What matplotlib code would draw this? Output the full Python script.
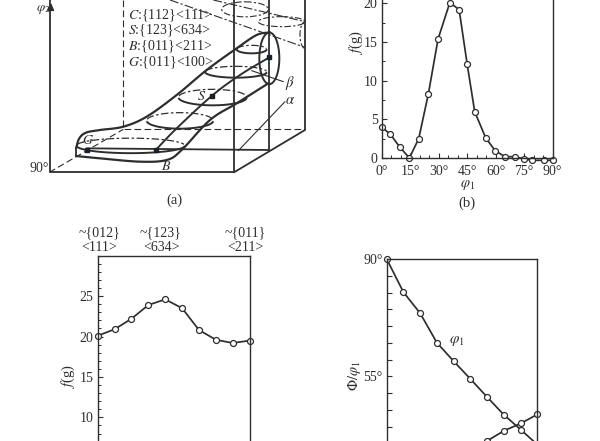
import numpy as np
import matplotlib
matplotlib.use("Agg")
import matplotlib.pyplot as plt
from matplotlib.patches import Ellipse
from matplotlib.ticker import MultipleLocator, FuncFormatter

plt.rcParams['font.family'] = ['Liberation Serif', 'DejaVu Serif']
plt.rcParams['mathtext.fontset'] = 'stix'

INK = '#2e2e2e'
W, H = 600, 441

# panel (b)
b_phi1 = [0, 4.6, 9.5, 14.6, 19.5, 24.6, 29.7, 35.9, 40.8, 45, 49, 54.8, 59.8, 64.9, 70, 74.9, 79.3, 85.3, 90]
b_fg = [4.0, 3.06, 1.42, 0, 2.5, 8.3, 15.4, 20.1, 19.2, 12.2, 6.0, 2.6, 0.95, 0.17, 0.17, -0.1, -0.3, -0.3, -0.3]
b_xticks = [0, 15, 30, 45, 60, 75, 90]

# panel (c)
c_pos = [0, 1, 2, 3, 4, 5, 6, 7, 8, 9]
c_fg = [20.1, 20.9, 22.2, 23.9, 24.6, 23.5, 20.8, 19.6, 19.2, 19.5]
c_top = ['~{012}\n<111>', '~{123}\n<634>', '~{011}\n<211>']
c_top_pos = [0.08, 3.75, 8.75]

# panel (d)
d_pos1 = [0, 1, 2, 3, 4, 5, 6, 7, 8, 9]
d_phi1 = [90, 80.1, 73.8, 65.0, 59.5, 54.2, 48.8, 43.5, 39.1, 34.6]
d_pos2 = [5, 6, 7, 8, 9]
d_phi = [33.7, 35.7, 38.7, 40.9, 43.6]

# panel (a): schematic outlines, read in reference pixels
a_upper = [(228,445),(238,415),(258,398),(300,390),(370,380),(440,350),(530,285),(620,210),(710,145),(770,105),(810,97)]
a_lower = [(228,468),(300,475),(420,485),(500,480),(545,450),(630,360),(710,310),(805,250)]
a_mid = [(467,450),(530,385),(635,288),(720,225),(808,172)]
a_slices = [(392,437,325,45),(540,362,200,48),(638,292,205,48),(708,216,185,34),(755,148,90,24)]
a_solid = [
    [(150,0),(150,517),(700,517)],
    [(702,0),(702,517),(915,390),(915,0)],
    [(807,0),(807,452)],
    [(260,445),(807,450)],
    [(228,445),(228,468)],
]
a_thin = [[(715,452),(855,305)],[(755,212),(850,245)]]
a_dashed = [[(370,0),(370,388),(915,388)],[(148,517),(370,388)]]
a_dashdot = [[(510,0),(915,142)],[(640,0),(915,65)]]
a_top_ell = [(735,28,140,45),(845,65,140,30)]
a_top_arc = (915,105,30,80)
a_points = [(260,450),(467,450),(635,288),(808,172)]
a_legend = ['C:{112}<111>', 'S:{123}<634>', 'B:{011}<211>', 'G:{011}<100>']


def pix_axes(fig, left, right, top, bottom):
    return fig.add_axes([left / W, 1 - bottom / H, (right - left) / W, (bottom - top) / H])


def smooth(pts, n=12):
    """Catmull-Rom path through the read points."""
    p = np.array(pts, float)
    p = np.vstack([2 * p[0] - p[1], p, 2 * p[-1] - p[-2]])
    out = []
    for i in range(1, len(p) - 2):
        t = np.linspace(0, 1, n, endpoint=False)[:, None]
        out.append(0.5 * (2 * p[i] + (p[i + 1] - p[i - 1]) * t
                          + (2 * p[i - 1] - 5 * p[i] + 4 * p[i + 1] - p[i + 2]) * t ** 2
                          + (3 * p[i] - p[i - 1] - 3 * p[i + 1] + p[i + 2]) * t ** 3))
    out.append(p[-2][None, :])
    return np.vstack(out)


fig = plt.figure(figsize=(6, 4.41), dpi=100, facecolor='white')

# ---------- panel (a)
a = fig.add_axes([0, 0, 1, 1])
a.set_xlim(0, W)
a.set_ylim(H, 0)
a.axis('off')
Z = 3.0


def pl(pts, **kw):
    p = np.array(pts) / Z
    a.plot(p[:, 0], p[:, 1], color=INK, solid_capstyle='round', **kw)


for s in a_solid:
    pl(s, lw=1.3)
for s in a_thin:
    pl(s, lw=0.8)
for s in a_dashed:
    pl(s, lw=0.8, ls=(0, (6, 3)))
for s in a_dashdot:
    pl(s, lw=0.8, ls=(0, (8, 2, 2, 2)))
pl(smooth(a_upper), lw=1.6)
pl(smooth(a_lower), lw=1.6)
pl(smooth(a_mid), lw=1.4)
for cx, cy, w, h in a_slices:
    th = np.radians(np.linspace(190, 350, 40))
    a.plot(cx / Z + w / Z / 2 * np.cos(th), cy / Z + h / Z / 2 * np.sin(th), color=INK, lw=0.9, ls=(0, (6, 2, 2, 2)))
    th = np.radians(np.linspace(10, 170, 40))
    a.plot(cx / Z + w / Z / 2 * np.cos(th), cy / Z + h / Z / 2 * np.sin(th), color=INK, lw=1.4)
a.add_patch(Ellipse((808 / Z, 175 / Z), 60 / Z, 155 / Z, fill=False, ec=INK, lw=1.4))
for cx, cy, w, h in a_top_ell:
    a.add_patch(Ellipse((cx / Z, cy / Z), w / Z, h / Z, fill=False, ec=INK, lw=0.8, ls=(0, (6, 2, 2, 2))))
cx, cy, w, h = a_top_arc
th = np.radians(np.linspace(90, 270, 30))
a.plot(cx / Z + w / Z / 2 * np.cos(th), cy / Z + h / Z / 2 * np.sin(th), color=INK, lw=0.8, ls=(0, (6, 2, 2, 2)))
for x, y in a_points:
    a.plot(x / Z, y / Z, 's', ms=3.0, color='#1a2028')
a.annotate('', xy=(51, 0), xytext=(50.5, 12), arrowprops=dict(arrowstyle='-|>', color=INK, lw=1.2))

for i, t in enumerate(a_legend):
    lab, rest = t.split(':')
    a.text(127.5, 15.5 + i * 15.7, f'${lab}$:{rest}', fontsize=10, color=INK, va='center', ha='left')
a.text(35.5, 10, r'$\varphi_2$', fontsize=9.5, color=INK, ha='left', va='center')
a.text(29, 168.5, '90°', fontsize=10, color=INK, ha='left', va='center')
a.text(88, 140, '$G$', fontsize=10, color=INK, ha='center', va='center')
a.text(166, 166, '$B$', fontsize=10, color=INK, ha='center', va='center')
a.text(202, 97, '$S$', fontsize=10, color=INK, ha='center', va='center')
a.text(290, 83, r'$\beta$', fontsize=10.5, color=INK, ha='center', va='center')
a.text(290, 100, r'$\alpha$', fontsize=10.5, color=INK, ha='center', va='center')
a.text(174, 200, '(a)', fontsize=10.5, color=INK, ha='center', va='center')
a.text(466.5, 203, '(b)', fontsize=10.5, color=INK, ha='center', va='center')


def style(ax):
    ax.patch.set_alpha(0)
    for s in ax.spines.values():
        s.set_color(INK)
        s.set_linewidth(1.0)
    ax.tick_params(which='major', direction='in', length=3.6, width=0.8, color=INK,
                   labelsize=10, labelcolor=INK, pad=3)
    ax.tick_params(which='minor', direction='in', length=2.0, width=0.7, color=INK)


mk = dict(marker='o', ms=4.3, mfc='white', mec=INK, mew=0.9, color=INK, lw=1.25, clip_on=False)

# ---------- panel (b)
b = pix_axes(fig, 381.7, 552.5, 0, 158)
b.set_xlim(0, 90)
b.set_ylim(0, 158 / 7.73)
b.plot(b_phi1, b_fg, **mk)
b.set_xticks(b_xticks)
b.set_xticklabels([f'{v}°' for v in b_xticks])
b.xaxis.set_minor_locator(MultipleLocator(5))
b.set_yticks([0, 5, 10, 15, 20])
b.yaxis.set_minor_locator(MultipleLocator(2.5))
style(b)
b.tick_params(axis='x', pad=5)
b.spines['top'].set_visible(False)
b.set_xlabel(r'$\varphi_1$', fontsize=10.5, color=INK, labelpad=0)
b.text(-13.2, (158 - 43) / 7.73, '$f$(g)', fontsize=10.5, color=INK, rotation=90, ha='center', va='center')

# ---------- panel (c)
c = pix_axes(fig, 97.7, 249.7, 255.7, 441)
c.set_xlim(0, 9)
c.set_ylim(25 - 145 / 8.09, 30)
c.plot(c_pos, c_fg, **mk)
c.set_xticks([])
c.set_yticks([10, 15, 20, 25])
c.yaxis.set_minor_locator(MultipleLocator(1))
style(c)
c.spines['bottom'].set_visible(False)
c.text(-1.75, 15, '$f$(g)', fontsize=10.5, color=INK, rotation=90, ha='center', va='center')
for p, t in zip(c_top_pos, c_top):
    c.annotate(t, (p, 30), xytext=(0, 1), textcoords='offset points', ha='center', va='bottom',
               fontsize=10, color=INK, linespacing=1.22)

# ---------- panel (d)
d = pix_axes(fig, 386.7, 537.3, 259, 441)
d.set_xlim(0, 9)
d.set_ylim(90 - 182 / 3.35, 90)
d.plot(d_pos1, d_phi1, **mk)
d.plot(d_pos2, d_phi, **mk)
d.set_xticks([])
d.set_yticks([55, 90])
d.yaxis.set_major_formatter(FuncFormatter(lambda v, _: f'{v:.0f}°'))
d.yaxis.set_minor_locator(MultipleLocator(5))
style(d)
d.tick_params(which='minor', length=3.6, width=0.8)
d.spines['bottom'].set_visible(False)
d.text(-1.9, 55.2, r'$\Phi/\varphi_1$', fontsize=10.5, color=INK, rotation=90, ha='center', va='center')
d.text(4.2, 65.5, r'$\varphi_1$', fontsize=11, color=INK, ha='center', va='center')

fig.savefig('out.png', dpi=100, facecolor='white')
